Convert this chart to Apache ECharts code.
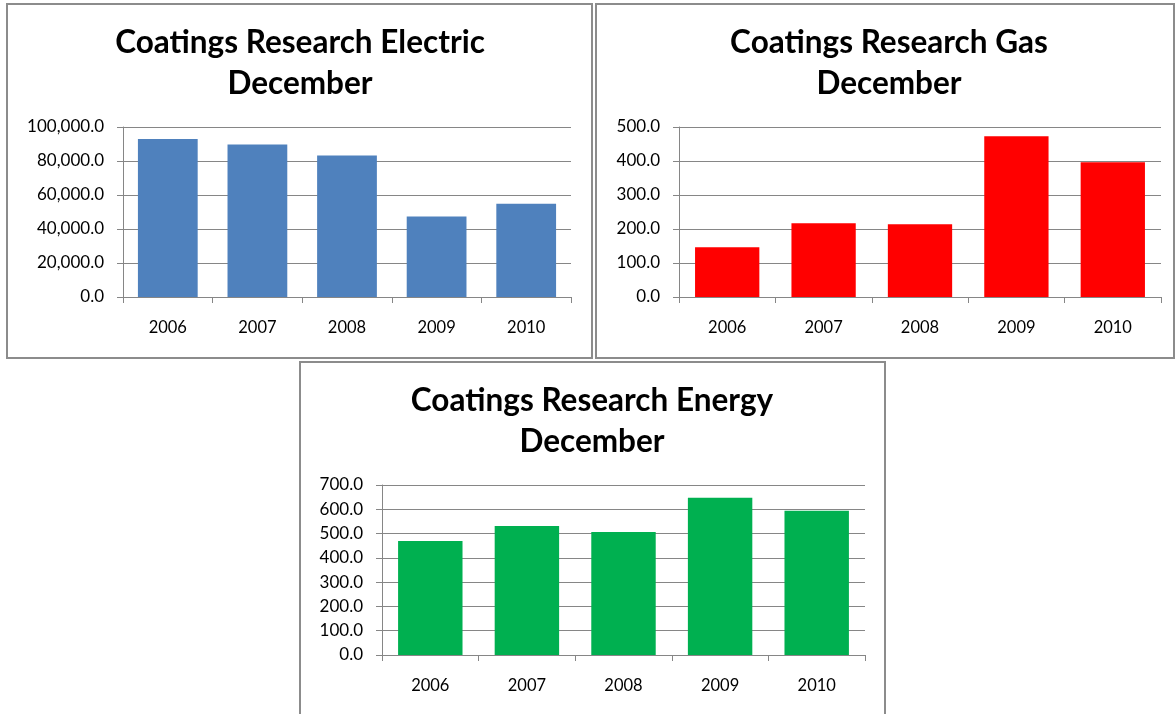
<!DOCTYPE html>
<html>
<head>
<meta charset="utf-8">
<title>Coatings Research December</title>
<script src="https://cdn.jsdelivr.net/npm/echarts@6/dist/echarts.min.js"></script>
<style>
  html, body { margin: 0; padding: 0; background: #fff; }
  #main { width: 1176px; height: 714px; }
</style>
</head>
<body>
<div id="main"></div>
<script>
// data
const years = ["2006", "2007", "2008", "2009", "2010"];
const electricValues = [92900, 89700, 83200, 47300, 54900];
const gasValues = [146, 217, 214, 473, 396];
const energyValues = [469, 531, 506, 648, 594];

const electricTitle = "Coatings Research Electric\nDecember";
const gasTitle = "Coatings Research Gas\nDecember";
const energyTitle = "Coatings Research Energy\nDecember";

const FONT = "Lato, 'Open Sans', sans-serif";
const GRID_COLOR = "#868686";

// 100000 -> "100,000.0"
function fmt(v) {
  let parts = v.toFixed(1).split(".");
  parts[0] = parts[0].replace(/\B(?=(\d{3})+(?!\d))/g, ",");
  return parts.join(".");
}

function makeTitle(text, x, y) {
  return {
    text: text,
    left: x,
    top: y,
    padding: 0,
    textAlign: "center",
    textStyle: {
      fontFamily: FONT,
      fontWeight: "bold",
      fontSize: 31.5,
      lineHeight: 41,
      color: "#000",
    },
  };
}

function makeXAxis(idx) {
  return {
    type: "category",
    gridIndex: idx,
    data: years,
    axisLine: { lineStyle: { color: GRID_COLOR, width: 1 } },
    axisTick: { show: true, length: 6, lineStyle: { color: GRID_COLOR } },
    axisLabel: { color: "#000", fontFamily: FONT, fontSize: 16.5, margin: 22 },
    splitLine: { show: false },
  };
}

function makeYAxis(idx, max, interval) {
  return {
    type: "value",
    gridIndex: idx,
    min: 0,
    max: max,
    interval: interval,
    axisLine: { show: true, lineStyle: { color: GRID_COLOR, width: 1 } },
    axisTick: { show: true, length: 6, lineStyle: { color: GRID_COLOR } },
    axisLabel: {
      color: "#000",
      fontFamily: FONT,
      fontSize: 17,
      margin: 19,
      formatter: fmt,
    },
    splitLine: { show: true, lineStyle: { color: GRID_COLOR, width: 1 } },
  };
}

function makeBar(idx, values, color) {
  return {
    type: "bar",
    xAxisIndex: idx,
    yAxisIndex: idx,
    data: values,
    barCategoryGap: "33.3%",
    itemStyle: { color: color },
    animation: false,
  };
}

// panel borders
function border(x, y, w, h) {
  return {
    type: "rect",
    silent: true,
    shape: { x: x, y: y, width: w, height: h },
    style: { fill: "none", stroke: "#8c8c8c", lineWidth: 2 },
  };
}

let myChart = echarts.init(document.getElementById("main"), null, { renderer: "canvas" });
myChart.setOption({
  backgroundColor: "#fff",
  animation: false,
  title: [
    makeTitle(electricTitle, 300, 22),
    makeTitle(gasTitle, 889, 22),
    makeTitle(energyTitle, 592, 380),
  ],
  graphic: [
    border(7, 4, 585, 354),
    border(596, 4, 578, 354),
    border(300, 362, 585, 400),
  ],
  grid: [
    { left: 123, top: 127, width: 448, height: 170 },
    { left: 679, top: 127, width: 482, height: 170 },
    { left: 382, top: 485, width: 483, height: 170 },
  ],
  xAxis: [makeXAxis(0), makeXAxis(1), makeXAxis(2)],
  yAxis: [
    makeYAxis(0, 100000, 20000),
    makeYAxis(1, 500, 100),
    makeYAxis(2, 700, 100),
  ],
  series: [
    makeBar(0, electricValues, "#4F81BD"),
    makeBar(1, gasValues, "#FF0000"),
    makeBar(2, energyValues, "#00B050"),
  ],
});
</script>
</body>
</html>
